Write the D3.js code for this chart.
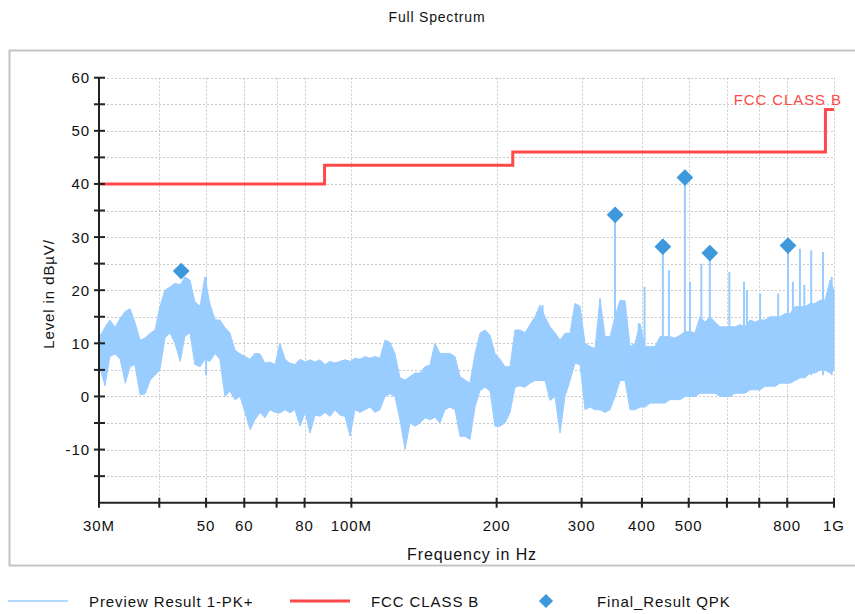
<!DOCTYPE html>
<html>
<head>
<meta charset="utf-8">
<script src="https://cdn.jsdelivr.net/npm/d3@7"></script>
<style>
  html, body { margin: 0; padding: 0; background: #fff; }
  svg { display: block; font-family: "Liberation Sans", Arial, sans-serif; }
  text { fill: #111; }
</style>
</head>
<body>
<svg id="chart" width="855" height="614"></svg>
<script>
// ---------- data (MHz / dBµV) ----------
const previewFreq = [30, 30.87, 31.6, 32.4, 33.2, 34.0, 34.8, 35.6, 36.5, 37.4, 38.3, 39.2, 40.1, 41.1, 42.1, 43.1, 44.2, 45.2, 46.3, 47.4, 48.6, 49.7, 50.9, 52.2, 53.4, 54.7, 56.0, 57.4, 58.8, 60.2, 61.7, 63.1, 64.7, 66.2, 67.8, 69.5, 71.1, 72.9, 74.6, 76.4, 78.3, 80.2, 82.1, 84.1, 86.1, 88.2, 90.3, 92.5, 94.7, 97.0, 99.4, 101.7, 104.2, 106.7, 109.3, 111.9, 114.6, 117.4, 120.2, 123.1, 126.1, 129.2, 132.3, 135.5, 138.8, 142.1, 145.5, 149.0, 152.6, 156.3, 160.1, 164.0, 167.9, 172.0, 176.1, 180.4, 184.7, 189.2, 193.8, 198.4, 203.2, 208.1, 213.2, 218.3, 223.6, 229.0, 234.5, 240.2, 246.0, 251.9, 258.0, 264.2, 270.6, 277.1, 283.8, 290.6, 297.7, 304.9, 312.2, 319.8, 327.5, 335.4, 343.5, 351.8, 360.3, 369.0, 377.9, 387.0, 396.4, 405.9, 415.7, 425.7, 436.0, 446.5, 457.3, 468.3, 479.7, 491.2, 503.1, 515.3, 527.7, 540.5, 553.5, 566.9, 580.5, 594.6, 608.9, 623.6, 638.7, 654.1, 669.9, 686.1, 702.7, 719.6, 737.0, 754.7, 773.0, 791.7, 810.7, 830.3, 850.3, 870.9, 891.9, 913.5, 935.5, 958.1, 981.2, 1000];
const previewHigh = [11, 13, 14.4, 13, 14.7, 16, 16.5, 14, 10.6, 11, 11.9, 12.5, 16.9, 20, 20.6, 21.3, 21, 22.5, 21.9, 17.8, 17, 22.5, 17.5, 14.4, 14.4, 13, 12, 8.75, 8, 7.5, 7, 8.1, 8, 6.25, 6.5, 6, 10, 7, 6.25, 6, 7, 6.5, 6.9, 6.5, 6.9, 6, 6.6, 6.3, 6.6, 6.9, 6.6, 7.2, 7, 7.5, 7.2, 7.5, 7.2, 10.6, 10.2, 8.1, 3.5, 3.1, 3.75, 4.4, 4.4, 5.6, 5.9, 10, 8.1, 8.1, 8.1, 7.5, 3.75, 3.1, 2.5, 8, 11.9, 12.5, 11.5, 8.1, 7, 5.6, 5.6, 12.5, 12.5, 12, 13.5, 15, 17.2, 15, 13.1, 12, 10.6, 11.9, 11.9, 17.5, 17, 10, 9.4, 9, 18.4, 11.25, 11.25, 15, 18.1, 18, 9.4, 10, 13.75, 9.4, 9.4, 9.4, 11.25, 11.25, 11.25, 11, 11.5, 12.2, 12.2, 12, 15, 14, 15, 14, 13.1, 13.1, 13.1, 13.1, 13.5, 13.1, 14.4, 14, 14.4, 14.4, 15, 15, 15, 15.6, 15.6, 16.9, 16.9, 16.9, 17.5, 17.5, 18.1, 18.1, 21.9, 20];
const previewLow = [6, 2, 7.5, 8, 7, 2.5, 5.6, 6, 0.3, 0.5, 3.1, 4, 5, 11, 12, 10, 6.6, 11.3, 12, 6, 5.6, 7, 6.6, 8.1, 7, 0, 1, -0.6, 0, -3, -6.25, -4.4, -3, -4, -2.5, -3, -3.1, -2.5, -3.1, -2.5, -5.6, -3, -6.9, -3.5, -3.75, -3, -3.75, -2.5, -3.5, -3.75, -7.5, -2.5, -3, -2.5, -2, -3, -2.5, 0, 0.5, 0, -4.4, -10, -5, -5.6, -5, -4, -4.4, -3.9, -5, -2.5, -2, -2.5, -7.5, -7.5, -8.1, -2, 1.1, 1.75, 1, -5.6, -5.6, -5, -3, 1.75, 2, 1.75, 2.5, 3, 3, 3, -0.75, 0, -6.9, 0, 3, 6.25, 6, -2.5, -2, -2.5, -2.5, -3, -2.5, 0, 3, 3, -2.5, -2.5, -2, -2, -1.25, -1.25, -1.25, -1.25, -0.6, -0.6, -0.6, 0, 0, 0, 0.6, 0.6, 0.6, 0.6, 0, 0, 0, 0.6, 0.6, 0.6, 1.25, 1.25, 1.25, 1.9, 1.9, 1.9, 2.5, 2.5, 2.5, 3, 3.5, 3.5, 4.4, 4.4, 5, 5, 4.4, 5];

const spikeFreq = [50.0, 249, 327.5, 351.8, 394, 405, 442, 455, 491, 503, 531, 553, 607, 651, 660, 703, 766, 803, 822, 850, 868, 897, 949, 989];
const spikePeak = [22.5, 17.2, 18.4, 34.2, 13.75, 20.6, 28, 23.75, 41, 21.6, 25, 27, 23.4, 21.6, 20, 19.4, 19.4, 28.3, 21.6, 27.8, 21, 27.5, 27.2, 22.5];

const limitFreq = [30, 88, 216, 960, 1000];
const limitLevel = [40, 43.5, 46, 54, 54];

const finalFreq = [44.4, 352, 442, 491, 553, 803];
const finalLevel = [23.6, 34.2, 28.2, 41.2, 27.0, 28.4];

const xTicks = [30, 40, 50, 60, 70, 80, 100, 200, 300, 400, 500, 600, 700, 800, 1000];
const xTickLabels = {30: "30M", 50: "50", 60: "60", 80: "80", 100: "100M", 200: "200", 300: "300", 400: "400", 500: "500", 800: "800", 1000: "1G"};
const yMajorTicks = [60, 50, 40, 30, 20, 10, 0, -10];
const yMinorTicks = [55, 45, 35, 25, 15, 5, -5, -15];

// ---------- layout ----------
const svg = d3.select("#chart");
const x = d3.scaleLog().domain([30, 1000]).range([99, 834]);
const y = d3.scaleLinear().domain([-20, 60]).range([502.7, 77.7]);

const traceColor = "#99ccff";
const limitColor = "#ff4848";
const finalColor = "#3e98dc";
const fontSpacing = "0.9px";

// frame
svg.append("rect").attr("x", 9.5).attr("y", 50.5).attr("width", 870).attr("height", 515)
  .attr("fill", "none").attr("stroke", "#c4c4c4").attr("stroke-width", 2);

// title
svg.append("text").attr("x", 437).attr("y", 22).attr("text-anchor", "middle")
  .style("font-size", "14px").style("letter-spacing", "0.8px").text("Full Spectrum");

// grid
const grid = svg.append("g").attr("stroke", "#c8c8c8").attr("stroke-width", 1).attr("stroke-dasharray", "2,2");
grid.selectAll(".hg").data(yMajorTicks.concat(yMinorTicks)).enter().append("line")
  .attr("x1", x(30)).attr("x2", x(1000))
  .attr("y1", d => Math.round(y(d)) + 0.5).attr("y2", d => Math.round(y(d)) + 0.5);
grid.selectAll(".vg").data(xTicks.filter(d => d !== 30)).enter().append("line")
  .attr("x1", d => Math.round(x(d)) + 0.5).attr("x2", d => Math.round(x(d)) + 0.5)
  .attr("y1", y(60)).attr("y2", y(-20));

// preview trace (envelope band)
const previewData = previewFreq.map((f, i) => ({f, hi: previewHigh[i], lo: previewLow[i]}));
const area = d3.area().x(d => x(d.f)).y0(d => y(d.lo)).y1(d => y(d.hi));
svg.append("path").datum(previewData).attr("d", area)
  .attr("fill", traceColor).attr("stroke", traceColor).attr("stroke-width", 1);

// spikes
svg.append("g").selectAll("line").data(spikeFreq.map((f, i) => ({f, v: spikePeak[i]}))).enter()
  .append("line")
  .attr("x1", d => x(d.f)).attr("x2", d => x(d.f))
  .attr("y1", y(4)).attr("y2", d => y(d.v))
  .attr("stroke", traceColor).attr("stroke-width", 2);

// limit line
const limitData = limitFreq.map((f, i) => ({f, v: limitLevel[i]}));
svg.append("path").datum(limitData)
  .attr("d", d3.line().x(d => x(d.f)).y(d => y(d.v)).curve(d3.curveStepAfter))
  .attr("fill", "none").attr("stroke", limitColor).attr("stroke-width", 3);
svg.append("text").attr("x", 842).attr("y", 105).attr("text-anchor", "end")
  .style("font-size", "15px").style("letter-spacing", "0.9px").style("fill", limitColor)
  .text("FCC CLASS B");

// final results
const diamond = d3.symbol().type(d3.symbolSquare).size(140);
svg.append("g").selectAll("path").data(finalFreq.map((f, i) => ({f, v: finalLevel[i]}))).enter()
  .append("path").attr("d", diamond)
  .attr("transform", d => `translate(${x(d.f)},${y(d.v)}) rotate(45)`)
  .attr("fill", finalColor);

// axes
const yAxisG = svg.append("g");
yAxisG.append("line").attr("x1", 99).attr("x2", 99).attr("y1", y(60)).attr("y2", y(-20))
  .attr("stroke", "#222").attr("stroke-width", 2);
yAxisG.selectAll(".yt").data(yMajorTicks.concat(yMinorTicks)).enter().append("line")
  .attr("x1", 94).attr("x2", 105).attr("y1", d => y(d)).attr("y2", d => y(d))
  .attr("stroke", "#222").attr("stroke-width", 2);
yAxisG.selectAll(".yl").data(yMajorTicks).enter().append("text")
  .attr("x", 90).attr("y", d => y(d) + 5.5).attr("text-anchor", "end")
  .style("font-size", "15px").style("letter-spacing", fontSpacing).text(d => d);

const xAxisG = svg.append("g");
xAxisG.append("line").attr("x1", x(30) - 1).attr("x2", x(1000)).attr("y1", y(-20)).attr("y2", y(-20))
  .attr("stroke", "#222").attr("stroke-width", 2);
xAxisG.selectAll(".xt").data(xTicks).enter().append("line")
  .attr("x1", d => x(d)).attr("x2", d => x(d)).attr("y1", y(-20) - 5).attr("y2", y(-20) + 5)
  .attr("stroke", "#222").attr("stroke-width", 2);
xAxisG.selectAll(".xl").data(xTicks.filter(d => xTickLabels[d])).enter().append("text")
  .attr("x", d => x(d)).attr("y", 531).attr("text-anchor", "middle")
  .style("font-size", "15px").style("letter-spacing", fontSpacing).text(d => xTickLabels[d]);

// axis titles
svg.append("text").attr("x", 472).attr("y", 560).attr("text-anchor", "middle")
  .style("font-size", "16px").style("letter-spacing", "0.9px").text("Frequency in Hz");
svg.append("text").attr("transform", "translate(54,294) rotate(-90)").attr("text-anchor", "middle")
  .style("font-size", "15px").style("letter-spacing", fontSpacing).text("Level in dBµV/");

// legend
const lg = svg.append("g");
lg.append("line").attr("x1", 8).attr("x2", 68).attr("y1", 601).attr("y2", 601)
  .attr("stroke", traceColor).attr("stroke-width", 1.5);
lg.append("text").attr("x", 89).attr("y", 607).style("font-size", "15px").style("letter-spacing", fontSpacing)
  .text("Preview Result 1-PK+");
lg.append("line").attr("x1", 290).attr("x2", 350).attr("y1", 601).attr("y2", 601)
  .attr("stroke", limitColor).attr("stroke-width", 3);
lg.append("text").attr("x", 371).attr("y", 607).style("font-size", "15px").style("letter-spacing", fontSpacing)
  .text("FCC CLASS B");
lg.append("path").attr("d", d3.symbol().type(d3.symbolSquare).size(100))
  .attr("transform", "translate(546,601) rotate(45)").attr("fill", finalColor);
lg.append("text").attr("x", 597).attr("y", 607).style("font-size", "15px").style("letter-spacing", fontSpacing)
  .text("Final_Result QPK");
</script>
</body>
</html>
